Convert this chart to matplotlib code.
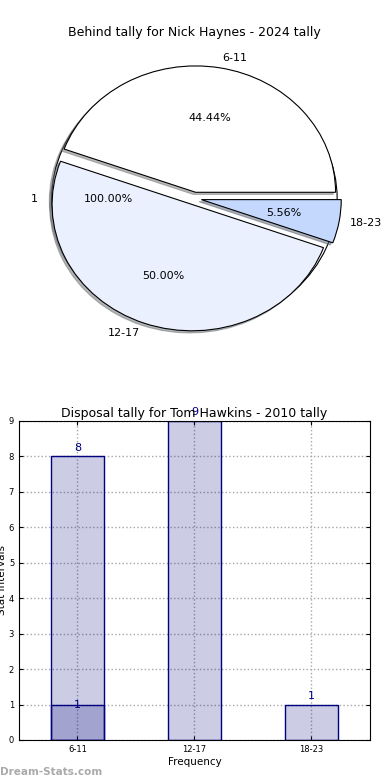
import matplotlib
matplotlib.use("Agg")
import matplotlib.pyplot as plt

# pie data
pie_labels = ["6-11", "12-17", "18-23"]
pie_values = [8, 9, 1]
pie_colors = ["#ffffff", "#eaf0fd", "#c4d8fe"]
bg_labels = ["1"]
bg_values = [1]

# bar data
bar_labels = ["6-11", "12-17", "18-23"]
bar_values = [8, 9, 1]
sub_values = [1]

fig = plt.figure(figsize=(3.9, 7.8), dpi=100)

# ---- pie ----
shadow = {"ox": -0.012, "oy": -0.012, "shade": 0.55}
ax1 = fig.add_axes([0.05, 0.543, 0.897, 0.405])
ax1.pie(bg_values, labels=bg_labels, colors=["white"], autopct="%1.2f%%",
        shadow=shadow, radius=1.02, textprops={"fontsize": 8},
        wedgeprops={"linewidth": 0.8, "edgecolor": "black"})
for p in ax1.patches:
    p.set_zorder(p.get_zorder() * 0.5)
ax1.pie(pie_values, labels=pie_labels, colors=pie_colors, autopct="%1.2f%%",
        explode=[0.05, 0.05, 0.05], shadow=shadow, labeldistance=1.08,
        textprops={"fontsize": 8},
        wedgeprops={"linewidth": 0.8, "edgecolor": "black"})
ax1.set_aspect("auto")
ax1.set_xlim(-1.25, 1.25)
ax1.set_ylim(-1.25, 1.25)
ax1.set_title("Behind tally for Nick Haynes - 2024 tally", fontsize=9, pad=3)

# ---- bars ----
ax2 = fig.add_axes([0.0487, 0.0513, 0.9, 0.409])
x = list(range(len(bar_labels)))
ax2.bar(x, bar_values, width=0.45, color=(0, 0, 0.5, 0.2), edgecolor="navy", linewidth=1)
ax2.bar(x[:len(sub_values)], sub_values, width=0.45, color=(0, 0, 0.5, 0.2),
        edgecolor="navy", linewidth=1)
for xi, v in zip(x, bar_values):
    ax2.text(xi, v + 0.1, str(v), ha="center", va="bottom", color="navy", fontsize=8)
for xi, v in zip(x, sub_values):
    ax2.text(xi, v, str(v), ha="center", va="center", color="navy", fontsize=8)

ax2.set_xlim(-0.5, 2.5)
ax2.set_ylim(0, 9)
ax2.set_yticks(range(0, 10))
ax2.set_xticks(x)
ax2.set_xticklabels(bar_labels)
ax2.tick_params(direction="in", top=True, right=True, labelsize=6, length=3)
ax2.grid(True, linestyle=":", color="0.65", linewidth=1)
ax2.set_axisbelow(True)
ax2.set_title("Disposal tally for Tom Hawkins - 2010 tally", fontsize=9, pad=3)
ax2.set_xlabel("Frequency", fontsize=7.5, labelpad=2)
ax2.set_ylabel("Stat Intervals", fontsize=7.5, labelpad=1)

fig.text(0.0, 0.006, "Dream-Stats.com", color="#aaaaaa", fontsize=7.5, fontweight="bold")

fig.savefig("out.png", dpi=100)
